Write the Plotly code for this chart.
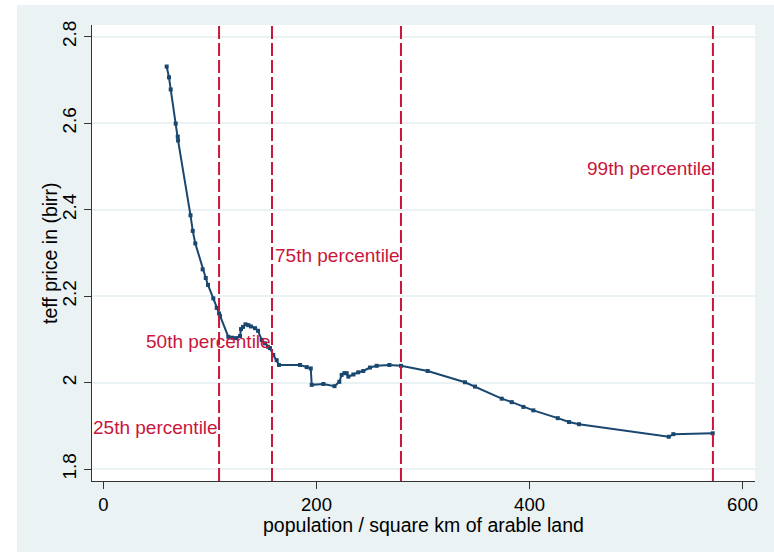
import plotly.graph_objects as go

# population density (per sq km of arable land) and teff price (birr)
density = [59.3, 61.5, 63.1, 67.8, 69.7, 70.0, 81.7, 83.8, 86.2, 93.1, 96.0, 98.1,
           103.1, 106.3, 108.5, 109.4, 117.2, 120.7, 124.4, 128.2, 129.1, 131.0,
           133.3, 136.0, 138.5, 142.3, 145.1, 148.5, 151.6, 154.5, 156.3, 159.4,
           162.6, 164.8, 184.5, 190.8, 194.6, 195.5, 206.4, 216.9, 221.4, 223.6,
           226.1, 228.3, 229.9, 234.6, 239.2, 243.9, 250.2, 256.5, 268.4, 279.3,
           304.4, 339.4, 348.8, 373.9, 383.3, 394.2, 403.6, 426.5, 437.1, 446.5,
           530.7, 535.0, 572.0]
price = [2.731, 2.706, 2.678, 2.599, 2.569, 2.560, 2.387, 2.351, 2.322, 2.262, 2.242,
         2.226, 2.195, 2.173, 2.160, 2.154, 2.106, 2.104, 2.103, 2.108, 2.124, 2.129,
         2.135, 2.133, 2.130, 2.126, 2.120, 2.099, 2.091, 2.083, 2.080, 2.064,
         2.052, 2.041, 2.041, 2.036, 2.033, 1.995, 1.997, 1.992, 2.002, 2.018,
         2.022, 2.022, 2.014, 2.019, 2.024, 2.027, 2.035, 2.039, 2.041, 2.039,
         2.027, 2.001, 1.991, 1.963, 1.955, 1.944, 1.936, 1.918, 1.909, 1.904,
         1.875, 1.881, 1.883]

pct_labels = ["25th percentile", "50th percentile", "75th percentile", "99th percentile"]
pct_x = [108.5, 158.2, 279.3, 572.2]
pct_text_y = [1.897, 2.096, 2.293, 2.496]

x_ticks = [0, 200, 400, 600]
y_ticks = [1.8, 2.0, 2.2, 2.4, 2.6, 2.8]
y_tick_text = ["1.8", "2", "2.2", "2.4", "2.6", "2.8"]

x_title = "population / square km of arable land"
y_title = "teff price in (birr)"

NAVY = "#1a476f"
RED = "#c8163c"
BG = "#eaf2f3"
FONT = "Arial, Liberation Sans, sans-serif"

fig = go.Figure()
fig.add_trace(go.Scatter(
    x=density, y=price, mode="lines+markers",
    line=dict(color=NAVY, width=2),
    marker=dict(symbol="square", size=4, color=NAVY),
    showlegend=False, hoverinfo="skip",
))

for xv in pct_x:
    fig.add_shape(type="line", xref="x", yref="paper", x0=xv, x1=xv, y0=0, y1=1,
                  line=dict(color=RED, width=2, dash="13px,4px"))

for lab, xv, yv in zip(pct_labels, pct_x, pct_text_y):
    fig.add_annotation(x=xv, y=yv, xref="x", yref="y", text=lab, showarrow=False,
                       xanchor="right", yanchor="middle", borderpad=0,
                       font=dict(family=FONT, size=19, color=RED))

# axis titles
fig.add_annotation(x=0.5, y=-0.0965, xref="paper", yref="paper", text=x_title,
                   showarrow=False, xanchor="center", yanchor="middle",
                   font=dict(family=FONT, size=19.5, color="#000000"))
fig.add_annotation(x=-0.0633, y=0.5, xref="paper", yref="paper", text=y_title,
                   showarrow=False, xanchor="center", yanchor="middle", textangle=-90,
                   font=dict(family=FONT, size=19.5, color="#000000"))

# white outer margins (left & top) outside the graph region
fig.add_shape(type="rect", xref="paper", yref="paper", x0=-0.2, x1=-0.1131, y0=-0.3, y1=1.2,
              fillcolor="white", line=dict(width=0), layer="below")
fig.add_shape(type="rect", xref="paper", yref="paper", x0=-0.2, x1=1.2, y0=1.0439, y1=1.2,
              fillcolor="white", line=dict(width=0), layer="below")

fig.update_layout(
    width=774, height=552,
    margin=dict(l=92, r=19, t=25, b=71),
    paper_bgcolor=BG, plot_bgcolor="white",
    font=dict(family=FONT, size=19, color="#000000"),
    showlegend=False,
)
fig.update_xaxes(
    range=[-10.8, 611.7], tickvals=x_ticks, showgrid=False, zeroline=False,
    showline=True, linecolor="#333333", linewidth=1,
    ticks="outside", ticklen=7, tickcolor="#333333", tickwidth=1,
    tickfont=dict(size=18.5),
)
fig.update_yaxes(
    range=[1.7727, 2.827], tickvals=y_ticks, ticktext=y_tick_text, tickangle=-90,
    showgrid=True, gridcolor=BG, gridwidth=1.5, zeroline=False,
    showline=True, linecolor="#333333", linewidth=1,
    ticks="outside", ticklen=7, tickcolor="#333333", tickwidth=1,
    tickfont=dict(size=19),
)

fig.write_html("out.html", config={"displayModeBar": False},
               post_script="document.body.style.margin='0';document.body.style.overflow='hidden';")
